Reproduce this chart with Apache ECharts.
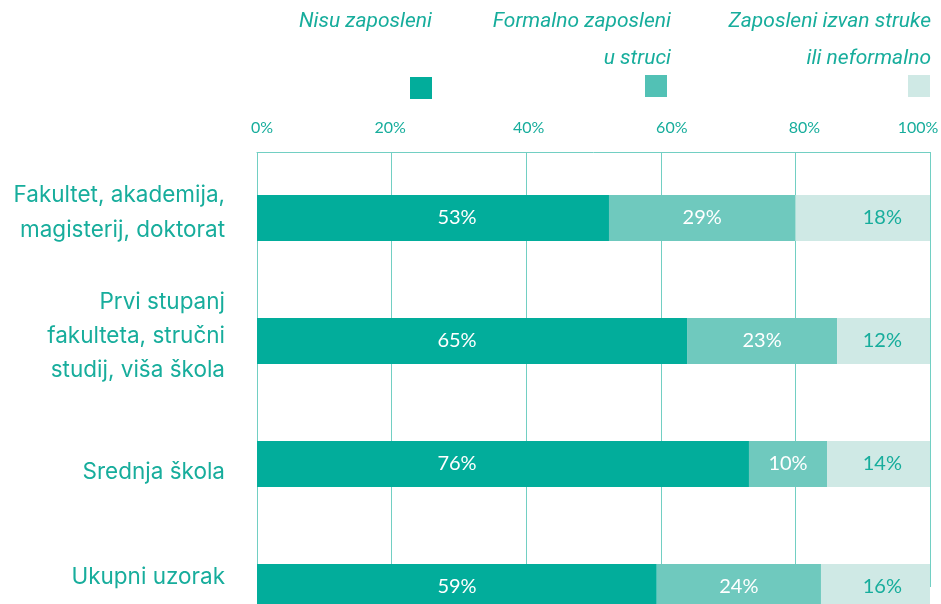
<!DOCTYPE html>
<html>
<head>
<meta charset="utf-8">
<script src="https://cdn.jsdelivr.net/npm/echarts@6/dist/echarts.min.js"></script>
<style>
  html, body { margin: 0; padding: 0; background: #ffffff; }
  #chart { width: 941px; height: 604px; }
</style>
</head>
<body>
<div id="chart"></div>
<script>
// ---- data ----
const categories = [
  'Fakultet, akademija,\nmagisterij, doktorat',
  'Prvi stupanj\nfakulteta, stručni\nstudij, viša škola',
  'Srednja škola',
  'Ukupni uzorak'
];
const seriesNames = ['Nisu zaposleni', 'Formalno zaposleni\nu struci', 'Zaposleni izvan struke\nili neformalno'];
// bar lengths as drawn
const nisu = [52.3, 63.9, 73.1, 59.4];
const formalno = [27.7, 22.3, 11.6, 24.4];
const izvan = [20.0, 13.8, 15.3, 16.2];
// printed labels
const nisuLabels = ['53%', '65%', '76%', '59%'];
const formalnoLabels = ['29%', '23%', '10%', '24%'];
const izvanLabels = ['18%', '12%', '14%', '16%'];
const xTickLabels = ['0%', '20%', '40%', '60%', '80%', '100%'];

// ---- styling ----
const TEAL_TEXT = '#17ad9c';
const C_DARK = '#02ad9b';
const C_MID = '#6fc9be';
const C_LIGHT = '#cfe9e5';
const C_MID_LEG = '#52c1b5';
const GRID_LINE = '#72cfc3';
const tickShift = [5, -1.5, 2.5, 11, 9, -12];
const catShift = [-5, -5, 8, -10];
const catLineHeight = [35, 34, 34, 34];

const rich = {};
tickShift.forEach((s, i) => {
  rich['t' + i] = {
    color: TEAL_TEXT, fontSize: 16, fontFamily: 'Lato',
    padding: s >= 0 ? [0, 0, 0, 2 * s] : [0, -2 * s, 0, 0]
  };
});

const catBase = { color: TEAL_TEXT, fontSize: 22.5, fontFamily: 'Inter', lineHeight: 34, align: 'right' };
const catRich = {};
catShift.forEach((s, i) => {
  catRich['c' + i] = Object.assign({}, catBase, {
    lineHeight: catLineHeight[i],
    padding: s >= 0 ? [2 * s, 0, 0, 0] : [0, 0, -2 * s, 0]
  });
});

const chart = echarts.init(document.getElementById('chart'), null, { renderer: 'canvas' });

const legendColors = [C_DARK, C_MID_LEG, C_LIGHT];
const legendRight = [432, 671, 931];
const legendSquareX = [410, 645, 908];
const legendSquareY = [77, 75, 75];
const graphics = [];
seriesNames.forEach((name, i) => {
  graphics.push({
    type: 'text',
    x: legendRight[i], y: 3,
    style: {
      text: name, x: 0, y: 0,
      align: 'right', verticalAlign: 'top',
      fill: TEAL_TEXT, fontSize: 21, fontStyle: 'italic',
      fontFamily: 'Roboto', lineHeight: 37
    }
  });
  graphics.push({
    type: 'rect',
    x: legendSquareX[i], y: legendSquareY[i],
    shape: { x: 0, y: 0, width: 22, height: 22 },
    style: { fill: legendColors[i] }
  });
});

const option = {
  backgroundColor: '#ffffff',
  animation: false,
  // category centres sit on the grid's top and bottom edges (boundaryGap false)
  grid: { left: 257, right: 11, top: 218, bottom: 17, containLabel: false, outerBoundsMode: 'none' },
  graphic: graphics,
  xAxis: {
    type: 'value', position: 'top', min: 0, max: 100, interval: 20,
    offset: 66,
    axisLine: { show: true, lineStyle: { color: GRID_LINE, width: 1 } },
    axisTick: { show: true, inside: true, length: 66, lineStyle: { color: GRID_LINE, width: 1 } },
    splitLine: { show: true, lineStyle: { color: GRID_LINE, width: 1 } },
    axisLabel: {
      margin: 16,
      formatter: function (v) {
        const idx = Math.round(v / 20);
        return '{t' + idx + '|' + xTickLabels[idx] + '}';
      },
      rich: rich
    }
  },
  yAxis: {
    type: 'category', inverse: true, data: categories, boundaryGap: false,
    axisLine: { show: true, lineStyle: { color: GRID_LINE, width: 1 } },
    axisTick: { show: false },
    splitLine: { show: false },
    axisLabel: {
      color: TEAL_TEXT, fontSize: 22.5, fontFamily: 'Inter', lineHeight: 34,
      margin: 32, align: 'right',
      formatter: function (v, i) {
        return v.split('\n').map(ln => '{c' + i + '|' + ln + '}').join('\n');
      },
      rich: catRich
    }
  },
  series: [
    {
      name: 'Nisu zaposleni', type: 'bar', stack: 'a', barWidth: 46, clip: false,
      data: nisu, itemStyle: { color: C_DARK },
      label: {
        show: true, position: [200, '50%'], align: 'center', verticalAlign: 'middle',
        color: '#ffffff', fontSize: 20, fontFamily: 'Lato',
        formatter: p => nisuLabels[p.dataIndex]
      }
    },
    {
      name: 'Formalno zaposleni u struci', type: 'bar', stack: 'a', barWidth: 46, clip: false,
      data: formalno, itemStyle: { color: C_MID },
      label: {
        show: true, position: 'inside',
        color: '#ffffff', fontSize: 20, fontFamily: 'Lato',
        formatter: p => formalnoLabels[p.dataIndex]
      }
    },
    {
      name: 'Zaposleni izvan struke ili neformalno', type: 'bar', stack: 'a', barWidth: 46, clip: false,
      data: izvan, itemStyle: { color: C_LIGHT },
      label: {
        show: true, position: 'insideRight', distance: 28,
        color: TEAL_TEXT, fontSize: 20, fontFamily: 'Lato',
        formatter: p => izvanLabels[p.dataIndex]
      }
    }
  ]
};
chart.setOption(option);
</script>
</body>
</html>
